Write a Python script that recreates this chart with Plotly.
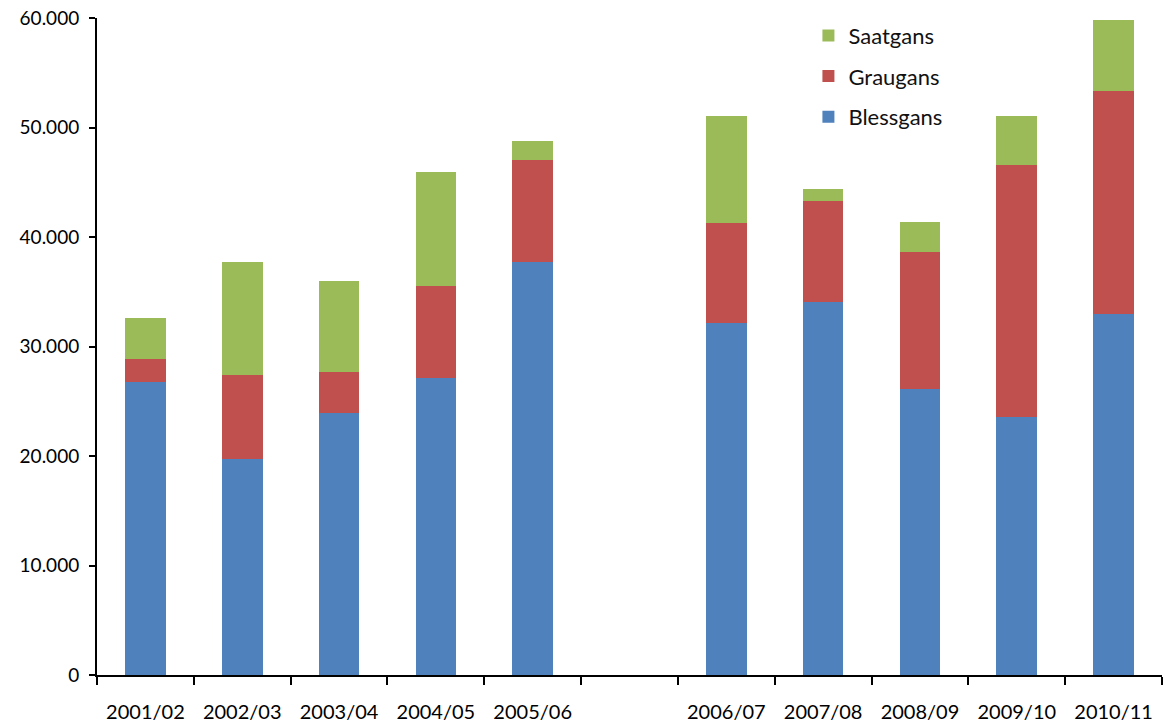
import plotly.graph_objects as go

# Winter seasons; the blank slot separates the two counting periods
seasons = ["2001/02", "2002/03", "2003/04", "2004/05", "2005/06", " ",
           "2006/07", "2007/08", "2008/09", "2009/10", "2010/11"]

blessgans = [26760, 19700, 23930, 27150, 37690, None, 32170, 34060, 26090, 23560, 32940]
graugans = [2120, 7720, 3740, 8380, 9340, None, 9080, 9230, 12510, 23040, 20420]
saatgans = [3680, 10270, 8310, 10370, 1710, None, 9800, 1120, 2730, 4480, 6440]

y_ticks = [0, 10000, 20000, 30000, 40000, 50000, 60000]

# stacking order bottom -> top, legend listed top -> bottom
series = [
    ("Blessgans", blessgans, "#4F81BD", 3),
    ("Graugans", graugans, "#C0504D", 2),
    ("Saatgans", saatgans, "#9BBB59", 1),
]

fig = go.Figure()
for name, vals, color, rank in series:
    fig.add_trace(go.Bar(
        x=seasons, y=vals, name=name, legendgroup=name, legendrank=rank,
        marker=dict(color=color, line=dict(width=0)),
    ))

font_family = "Lato, 'Open Sans', sans-serif"

fig.update_layout(
    barmode="stack",
    bargap=0.58,
    width=1168, height=726,
    margin=dict(l=97, r=6, t=18, b=51),
    paper_bgcolor="white",
    plot_bgcolor="white",
    separators=",.",
    font=dict(family=font_family, size=18, color="#000000"),
    showlegend=True,
    legend=dict(
        x=0.668, y=1.005, xanchor="left", yanchor="top",
        traceorder="grouped",
        tracegroupgap=9,
        font=dict(size=22, color="#111111"),
        bgcolor="rgba(0,0,0,0)",
        itemwidth=30,
    ),
    xaxis=dict(
        type="category",
        categoryorder="array", categoryarray=seasons,
        showline=True, linecolor="black", linewidth=2,
        ticks="outside", tickson="boundaries", ticklen=8, tickwidth=2,
        tickcolor="black",
        showgrid=False, zeroline=False,
        tickfont=dict(size=20, color="#000000"),
        ticklabelstandoff=18,
        automargin=False,
    ),
    yaxis=dict(
        range=[0, 60000],
        tickvals=y_ticks,
        tickformat=",d",
        showline=True, linecolor="black", linewidth=2,
        ticks="outside", ticklen=6, tickwidth=2, tickcolor="black",
        showgrid=False, zeroline=False,
        tickfont=dict(size=19, color="#000000"),
        ticklabelstandoff=6,
        automargin=False,
    ),
)

fig.write_html("out.html")
